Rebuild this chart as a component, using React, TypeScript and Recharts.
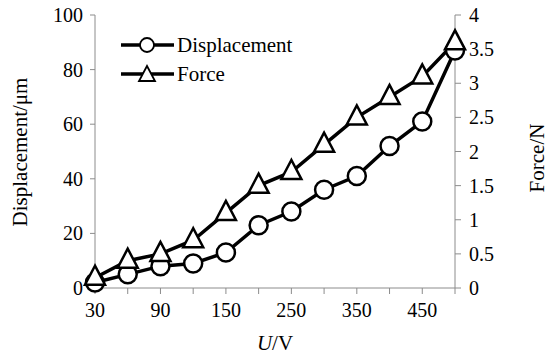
import { LineChart, Line, XAxis, YAxis } from "recharts";

const categories = ["30", "60", "90", "120", "150", "200", "250", "300", "350", "400", "450", "500"];
const displacement = [2, 5, 8, 9, 13, 23, 28, 36, 41, 52, 61, 87];
const force = [0.15, 0.4, 0.5, 0.7, 1.1, 1.5, 1.7, 2.1, 2.5, 2.8, 3.1, 3.6];
const leftTicks = [0, 20, 40, 60, 80, 100];
const rightTicks = [0, 0.5, 1, 1.5, 2, 2.5, 3, 3.5, 4];

const data = categories.map((u, i) => ({
  u,
  displacement: displacement[i],
  force: force[i],
}));

const FONT = "Liberation Serif, DejaVu Serif, serif";
const AXIS = "#8c8c8c";

function Triangle(props: any) {
  const { cx, cy } = props;
  if (cx == null || cy == null) return null;
  return (
    <polygon
      points={`${cx},${cy - 12} ${cx - 10},${cy + 7} ${cx + 10},${cy + 7}`}
      fill="#fff"
      stroke="#000"
      strokeWidth={2.5}
    />
  );
}

function XTick(props: any) {
  const { x, y, payload, index } = props;
  if (index % 2 !== 0) return <g />;
  return (
    <text x={x} y={y + 21} textAnchor="middle" style={{ fontFamily: FONT }} fontSize={20} fill="#000">
      {payload.value}
    </text>
  );
}

function YTick(props: any) {
  const { x, y, payload, textAnchor } = props;
  return (
    <text x={x} y={y + 7} textAnchor={textAnchor} style={{ fontFamily: FONT }} fontSize={20} fill="#000">
      {payload.value}
    </text>
  );
}

function LegendBox() {
  const row = (label: string, marker: "circle" | "triangle") => (
    <div style={{ display: "flex", alignItems: "center", height: 29 }}>
      <svg width={56} height={24}>
        <line x1={0} y1={12} x2={53} y2={12} stroke="#000" strokeWidth={3.5} />
        {marker === "circle" ? (
          <circle cx={26} cy={12} r={7} fill="#fff" stroke="#000" strokeWidth={1.8} />
        ) : (
          <polygon points="26,4 18,19 34,19" fill="#fff" stroke="#000" strokeWidth={1.8} />
        )}
      </svg>
      <span style={{ fontFamily: FONT, fontSize: 21, color: "#000", lineHeight: "24px" }}>{label}</span>
    </div>
  );
  return (
    <div style={{ position: "absolute", left: 121, top: 30 }}>
      {row("Displacement", "circle")}
      {row("Force", "triangle")}
    </div>
  );
}

export default function App() {
  return (
    <div style={{ position: "absolute", left: 0, top: 0, width: 554, height: 354, background: "#fff", fontFamily: FONT }}>
      <LineChart width={554} height={354} data={data} margin={{ top: 15, right: 0, bottom: 0, left: 0 }}>
        <XAxis
          dataKey="u"
          height={66}
          interval={0}
          padding={{ left: 0, right: 0 }}
          stroke={AXIS}
          tickSize={6}
          tick={<XTick />}
          label={() => (
            <text x={275} y={350} textAnchor="middle" style={{ fontFamily: FONT }} fontSize={21} fill="#000">
              <tspan fontStyle="italic">U</tspan>/V
            </text>
          )}
        />
        <YAxis
          yAxisId="left"
          width={95}
          domain={[0, 100]}
          ticks={leftTicks}
          stroke={AXIS}
          tickSize={5}
          tickMargin={7}
          tick={<YTick />}
          label={() => (
            <text
              x={20}
              y={152}
              transform="rotate(-90 20 152)"
              textAnchor="middle"
              dominantBaseline="central"
              style={{ fontFamily: FONT }}
              fontSize={21}
              fill="#000"
            >
              Displacement/μm
            </text>
          )}
        />
        <YAxis
          yAxisId="right"
          orientation="right"
          width={99}
          domain={[0, 4]}
          ticks={rightTicks}
          stroke={AXIS}
          tickSize={6}
          tickMargin={8}
          tick={<YTick />}
          label={() => (
            <text
              x={537}
              y={158}
              transform="rotate(-90 537 158)"
              textAnchor="middle"
              dominantBaseline="central"
              style={{ fontFamily: FONT }}
              fontSize={21}
              fill="#000"
            >
              Force/N
            </text>
          )}
        />
        <Line
          yAxisId="left"
          dataKey="displacement"
          stroke="#000"
          strokeWidth={3.5}
          dot={{ r: 9, fill: "#fff", stroke: "#000", strokeWidth: 2.5 }}
          isAnimationActive={false}
        />
        <Line
          yAxisId="right"
          dataKey="force"
          stroke="#000"
          strokeWidth={3.5}
          dot={<Triangle />}
          isAnimationActive={false}
        />
      </LineChart>
      <LegendBox />
    </div>
  );
}
